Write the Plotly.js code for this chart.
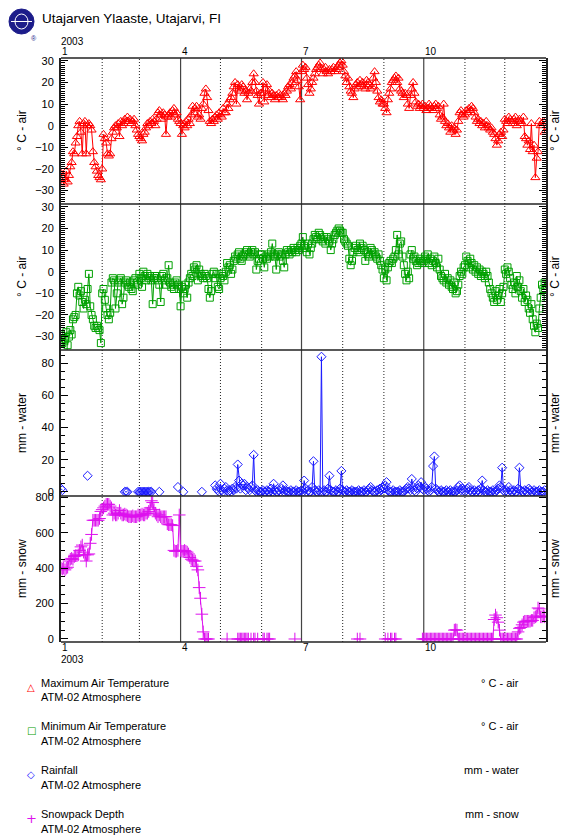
<!DOCTYPE html>
<html>
<head>
<meta charset="utf-8">
<script src="https://cdn.plot.ly/plotly-3.0.1.min.js"></script>
<style>html,body{margin:0;padding:0;background:#fff;}#chart{width:566px;height:836px;}</style>
</head>
<body>
<div id="chart"></div>
<script>
const _ = null;
const startDate = '2003-01-01';
const endDate = '2004-01-01';

// Maximum Air Temperature (deg C), daily, Jan..Dec 2003
const tmax = [
  -22,-24,-27,-25,-21,-26,-23,-19,-17,-12,-13,-8,-5,0,2,-3,-13,1,2,-13,0,1,0,-2,-12,-17,-19,-21,-23,-24,-25,
  -20,-4,-6,-8,-13,-14,-13,-6,-3,-1,0,-1,1,-5,2,0,1,3,2,4,2,3,1,2,3,0,-2,-4,
  -5,-6,-7,-4,-3,-1,1,0,2,1,3,2,0,3,6,7,5,3,6,5,-4,4,5,6,4,7,8,5,6,3,2,
  1,-4,0,-1,2,0,3,1,5,9,6,8,9,4,5,3,8,10,15,17,13,7,2,1,3,2,4,5,3,6,
  5,4,8,6,6,10,8,12,13,15,18,20,10,19,17,16,19,18,15,16,12,15,17,16,20,24,20,16,14,10,15,
  15,20,11,17,19,14,16,13,15,14,12,14,13,15,14,13,12,15,14,16,18,19,17,20,22,23,25,21,18,12,
  25,28,26,27,22,19,15,17,20,22,24,26,27,28,29,26,24,26,27,25,24,26,25,26,27,25,26,27,28,29,30,
  28,25,23,20,22,18,16,15,13,17,19,20,18,21,19,20,18,17,21,20,19,17,18,22,25,20,16,13,11,12,10,
  10,8,6,12,15,17,20,21,22,23,20,22,17,16,15,13,15,14,10,8,14,17,20,15,11,9,10,8,9,10,
  8,9,7,8,10,9,8,7,9,10,8,9,5,3,4,10,2,0,1,-1,-3,0,-2,-1,-4,-2,2,6,7,5,4,
  5,7,6,8,7,9,8,6,4,2,3,1,2,0,1,-1,2,0,-1,-2,-1,-3,-4,-6,-9,-7,-4,-3,-5,-2,
  3,2,1,4,3,2,1,3,4,0,2,3,2,1,4,-5,-6,-9,-7,-11,1,-12,-9,-24,-15,-12,2,0,1,2,-3
];

// Minimum Air Temperature (deg C)
const tmin = [
  -29,-33,-35,-31,-28,-34,-30,-27,-29,-22,-21,-20,-10,-7,-11,-9,-14,-17,-13,-15,-8,-1,-16,-20,-22,-25,-26,-25,-26,-27,-33,
  -10,-8,-13,-17,-20,-22,-19,-5,-3,-4,-17,-10,-5,-4,-3,-15,-12,-5,-4,-6,-7,-5,-8,-9,-4,-3,-5,-6,
  -1,-3,-7,0,-2,-4,-1,-3,-2,-4,-15,-3,-2,-3,-4,-6,-14,-2,-1,-4,-6,-3,3,-5,-7,-6,-8,-5,-4,-6,-8,
  -16,-7,-10,-8,-6,-12,-5,-3,-1,-2,2,1,3,-4,1,-1,-2,-3,-1,-2,-3,-8,-12,-9,-1,0,-3,-1,-7,-8,
  -3,-1,-2,-4,0,4,2,3,-1,1,5,7,6,8,9,6,5,7,8,9,10,8,7,9,10,8,9,1,5,6,8,
  8,6,2,7,6,8,7,9,13,8,7,1,8,9,7,8,5,2,8,10,9,8,10,9,11,10,9,11,10,12,
  13,16,12,11,9,13,8,11,13,15,17,16,15,18,17,15,14,16,13,16,15,14,10,13,15,17,18,19,20,19,18,
  18,15,14,13,12,6,3,5,9,11,12,10,9,13,11,12,10,5,9,8,7,11,10,8,9,7,6,8,5,3,1,
  -3,1,-4,2,4,5,4,6,7,10,17,8,13,14,7,3,-1,-4,0,-3,8,10,6,7,5,3,4,6,5,4,
  5,7,6,8,4,6,3,5,7,4,2,6,1,-2,-3,-4,-1,-5,-3,-6,-4,-7,-8,-5,-10,-9,-6,-2,0,-1,2,
  3,7,5,2,6,4,1,3,0,2,-1,1,-2,0,-1,-3,0,-2,-5,-8,-10,-12,-14,-9,-13,-11,-8,-14,-10,-7,
  1,-1,2,0,-3,-6,-8,-5,-10,-2,-7,-4,-9,-12,-8,-14,-11,-13,-17,-19,-15,-22,-25,-28,-24,-26,-17,-12,-6,-8,-5
];

// Rainfall (mm water), null = no record
const rain = [
  2,1,_,_,_,_,_,_,_,_,_,_,_,_,_,_,_,_,_,_,10,_,_,_,_,_,_,_,_,_,_,
  _,_,_,_,_,_,_,_,_,_,_,_,_,_,_,_,_,0,0,0,_,_,_,_,_,_,_,0,
  0,0,0,0,0,0,0,0,0,0,_,_,_,_,_,0,_,_,_,_,_,_,_,_,_,_,_,_,_,3,_,
  _,_,0,_,_,_,_,_,_,_,_,_,_,_,_,_,0,_,_,_,_,_,_,_,_,_,4,2,1,0,
  5,1,0,2,3,1,0,1,0,2,1,3,2,17,7,2,5,4,5,1,3,2,1,3,4,23,1,0,1,0,0,
  0,1,0,0,1,0,0,2,0,5,1,0,0,1,0,2,4,0,1,0,0,0,1,0,0,0,1,0,0,0,
  1,0,7,2,0,1,0,0,3,19,1,0,0,1,0,84,0,1,0,0,2,10,1,0,0,0,1,0,0,2,13,
  1,0,0,1,0,0,0,1,0,0,0,0,1,0,0,0,1,0,0,1,2,3,1,0,0,0,1,0,2,1,3,
  2,4,6,1,0,0,0,1,0,0,0,0,1,0,0,0,1,2,3,2,1,8,3,1,0,2,4,3,6,2,
  1,3,2,1,0,1,3,16,22,2,1,0,0,1,0,0,0,1,0,0,1,0,0,0,0,1,3,4,1,2,1,
  0,1,2,3,1,0,0,1,0,0,1,0,2,7,1,0,0,1,0,0,0,1,0,0,1,2,4,3,15,1,
  0,1,0,3,1,0,0,1,0,0,2,15,1,0,0,1,0,0,2,1,0,0,1,0,0,0,1,0,0,0,1
];

// Snowpack Depth (mm snow), null = no record
const snow = [
  400,395,400,390,400,405,440,450,455,450,465,470,470,475,500,520,530,490,475,440,475,480,540,590,670,670,670,670,670,680,720,
  730,740,750,760,760,760,750,740,700,710,700,700,710,725,710,700,700,705,700,695,690,690,690,695,690,690,690,700,
  695,700,705,700,700,710,710,720,740,780,770,730,710,700,690,700,690,690,690,690,690,650,645,645,645,640,500,495,495,500,700,
  500,495,495,500,495,490,480,460,450,445,440,440,410,390,290,230,140,40,0,0,0,0,_,_,_,_,_,_,_,_,
  _,_,_,_,_,0,_,_,_,_,_,_,_,0,0,0,0,0,0,0,0,0,_,0,_,0,0,_,0,_,_,
  _,0,0,_,0,0,0,_,_,_,_,_,_,_,_,_,_,_,_,_,_,_,_,_,_,0,_,_,_,_,
  _,_,_,_,_,_,_,_,_,_,_,_,_,_,_,_,_,_,_,_,_,_,_,_,_,_,_,_,_,_,_,
  _,_,_,_,_,_,_,_,_,_,_,0,_,0,_,_,_,_,_,_,_,_,_,_,_,_,_,_,_,_,_,
  _,0,_,0,_,0,0,_,0,0,_,_,_,_,_,_,_,_,_,_,_,_,_,_,_,_,_,_,_,0,
  0,0,0,0,0,0,0,0,0,0,0,0,0,0,0,0,0,0,0,0,0,0,0,50,52,50,0,0,0,0,0,
  0,0,0,0,0,0,0,0,0,0,0,0,0,0,0,0,0,0,0,0,0,0,110,135,120,95,50,0,0,0,
  0,0,0,0,0,0,0,0,0,0,40,60,65,80,95,100,100,100,100,100,105,105,120,125,130,175,170,125,125,130,125
];

// Month boundaries and tick labels
const quarterMonths = ['2003-04-01','2003-07-01','2003-10-01'];
const otherMonths = ['2003-02-01','2003-03-01','2003-05-01','2003-06-01','2003-08-01','2003-09-01','2003-11-01','2003-12-01'];
const xTickDates = ['2003-01-01','2003-04-01','2003-07-01','2003-10-01'];
const xTickText = ['1','4','7','10'];
const yearLabel = '2003';

const seriesNames = ['Maximum Air Temperature','Minimum Air Temperature','Rainfall','Snowpack Depth'];
const seriesSource = 'ATM-02 Atmosphere';
const seriesUnits = ['° C - air','° C - air','mm - water','mm - snow'];
const seriesColors = ['#ff0000','#00a000','#1a1aff','#dd11ee'];
const legendGlyphs = ['△','□','◇','+'];

// ---------- build ----------
const t0 = Date.UTC(2003,0,1);
const dates = tmax.map((v,i)=> new Date(t0 + i*86400000).toISOString().slice(0,10));

const W = 566, H = 836, ML = 61, MR = 20, MT = 58, MB = 194;
const PW = W - ML - MR, PH = H - MT - MB;
const px = x => (x - ML) / PW;
const py = y => (H - MB - y) / PH;

const FONT = 'Liberation Sans, Arial, Helvetica, sans-serif';

function mk(y, axis, color, symbol, size) {
  return {
    x: dates, y: y, yaxis: axis, xaxis: 'x', type: 'scatter', mode: 'lines+markers',
    connectgaps: false,
    line: {color: color, width: 1},
    marker: {symbol: symbol, size: size, color: color, line: {color: color, width: 1}},
    hoverinfo: 'skip'
  };
}

const traces = [
  mk(tmax, 'y4', seriesColors[0], 'triangle-up-open', 8),
  mk(tmin, 'y3', seriesColors[1], 'square-open', 7),
  mk(rain, 'y2', seriesColors[2], 'diamond-open', 7),
  mk(snow, 'y',  seriesColors[3], 'cross-thin-open', 9)
];

function yax(domain, range, dtick, minorDtick) {
  return {
    domain: domain, range: range, dtick: dtick, tick0: 0, anchor: 'x',
    ticks: 'inside', ticklen: 7, tickwidth: 1, tickcolor: '#000',
    minor: {dtick: minorDtick, ticks: 'inside', ticklen: 4, tickwidth: 1, tickcolor: '#000', showgrid: false},
    showline: true, linecolor: '#222', linewidth: 2, mirror: 'allticks',
    showgrid: false, zeroline: false,
    tickfont: {family: FONT, size: 11, color: '#000'},
    ticklabelstandoff: 3, fixedrange: true
  };
}

const shapes = [];
quarterMonths.forEach(d => shapes.push({type:'line', xref:'x', yref:'paper', x0:d, x1:d, y0:0, y1:1, layer:'below', line:{color:'#444', width:1.2}}));
otherMonths.forEach(d => shapes.push({type:'line', xref:'x', yref:'paper', x0:d, x1:d, y0:0, y1:1, layer:'below', line:{color:'#222', width:1, dash:'1px,2px'}}));
[0, 0.25, 0.5, 0.75, 1].forEach(v => shapes.push({type:'line', xref:'paper', yref:'paper', x0:0, x1:1, y0:v, y1:v, layer:'above', line:{color:'#222', width:1.6}}));
// logo
shapes.push({type:'circle', xref:'paper', yref:'paper', x0:px(9), x1:px(34), y0:py(34), y1:py(9), fillcolor:'#1c1c8a', line:{color:'#1c1c8a', width:1}, layer:'above'});
shapes.push({type:'circle', xref:'paper', yref:'paper', x0:px(15), x1:px(28), y0:py(29), y1:py(14), fillcolor:'rgba(0,0,0,0)', line:{color:'#ffffff', width:1}, layer:'above'});
shapes.push({type:'line', xref:'paper', yref:'paper', x0:px(11), x1:px(32), y0:py(21.5), y1:py(21.5), line:{color:'#ffffff', width:1}, layer:'above'});

const ann = [];
function txt(text, x, y, opts) {
  ann.push(Object.assign({text: text, xref:'paper', yref:'paper', x: x, y: y, showarrow:false,
    xanchor:'left', yanchor:'middle', font:{family: FONT, size: 11, color:'#000'}}, opts || {}));
}
// logo registered mark
txt('®', px(34), py(38), {font:{family: FONT, size: 7, color:'#1c1c8a'}, xanchor:'center'});

// x tick labels, top and bottom
const XF = {family:FONT, size:10, color:'#000'};
xTickDates.forEach((d,i) => {
  ann.push({text: xTickText[i], xref:'x', yref:'paper', x: d, y: py(51.5), showarrow:false, xanchor:'left', yanchor:'middle', xshift:-1, font:XF});
  ann.push({text: xTickText[i], xref:'x', yref:'paper', x: d, y: py(647), showarrow:false, xanchor:'left', yanchor:'middle', xshift:-1, font:XF});
});
ann.push({text: yearLabel, xref:'x', yref:'paper', x: xTickDates[0], y: py(41.5), showarrow:false, xanchor:'left', yanchor:'middle', xshift:-2, font:XF});
ann.push({text: yearLabel, xref:'x', yref:'paper', x: xTickDates[0], y: py(659.5), showarrow:false, xanchor:'left', yanchor:'middle', xshift:-2, font:XF});

// axis unit titles (left and right) for each panel: top to bottom
const panelCenters = [0.875, 0.625, 0.375, 0.125];
seriesUnits.forEach((u,i) => {
  txt(u, px(22), panelCenters[i], {textangle:-90, xanchor:'center', font:{family:FONT, size:12, color:'#000'}});
  txt(u, px(555), panelCenters[i], {textangle:-90, xanchor:'center', font:{family:FONT, size:12, color:'#000'}});
});

// legend block
const legY = [682.5, 726, 770, 814];
seriesNames.forEach((n,i) => {
  const y0 = legY[i];
  txt(legendGlyphs[i], px(31), py(y0 + 4.5), {xanchor:'center', font:{family:'DejaVu Sans, sans-serif', size: i===3 ? 13 : 10, color: seriesColors[i]}});
  txt(n, px(39), py(y0), {});
  txt(seriesSource, px(39), py(y0 + 14.5), {});
  txt(seriesUnits[i], px(521), py(y0), {xanchor:'right'});
});

const layout = {
  width: W, height: H,
  margin: {l: ML, r: MR, t: MT, b: MB, pad: 0},
  paper_bgcolor: '#ffffff', plot_bgcolor: '#ffffff',
  showlegend: false,
  title: {text: 'Utajarven Ylaaste, Utajarvi, FI', xref:'container', yref:'container', x: 42/W, xanchor:'left', y: 1 - 18/H, yanchor:'middle', font:{family: FONT, size: 13.5, color:'#000'}},
  xaxis: {type:'date', range:[startDate, endDate], anchor:'y', showticklabels:false, ticks:'', showgrid:false, zeroline:false, showline:false, fixedrange:true},
  yaxis:  yax([0, 0.25], [-17, 807], 200, 50),
  yaxis2: yax([0.25, 0.5], [-2.6, 88.2], 20, 5),
  yaxis3: yax([0.5, 0.75], [-36.2, 31.3], 10, 1),
  yaxis4: yax([0.75, 1], [-36.2, 31.3], 10, 1),
  shapes: shapes,
  annotations: ann
};

Plotly.newPlot('chart', traces, layout, {staticPlot: true, displayModeBar: false});
</script>
</body>
</html>
